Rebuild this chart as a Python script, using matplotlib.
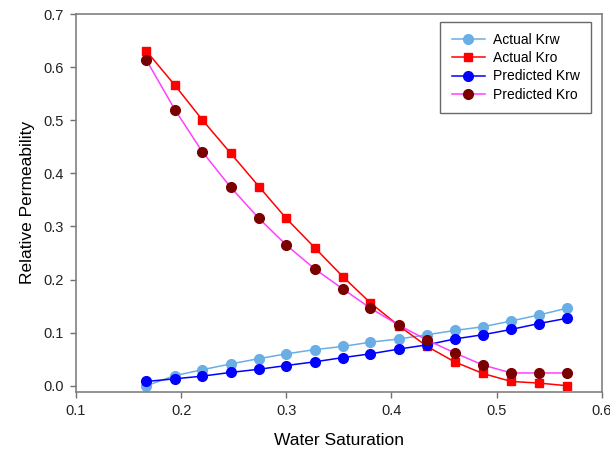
import matplotlib
matplotlib.use('Agg')
import matplotlib.pyplot as plt

plt.rcParams['font.family'] = ['Liberation Sans', 'DejaVu Sans']

sw = [0.167, 0.194, 0.220, 0.247, 0.274, 0.300, 0.327, 0.354,
      0.380, 0.407, 0.434, 0.460, 0.487, 0.514, 0.540, 0.567]

actual_krw = [0.000, 0.019, 0.030, 0.041, 0.051, 0.060, 0.068, 0.074,
              0.082, 0.088, 0.096, 0.104, 0.111, 0.122, 0.133, 0.146]
actual_kro = [0.630, 0.566, 0.501, 0.438, 0.375, 0.315, 0.260, 0.205,
              0.156, 0.113, 0.074, 0.045, 0.023, 0.008, 0.005, 0.000]
pred_krw = [0.008, 0.013, 0.018, 0.025, 0.031, 0.038, 0.045, 0.053,
            0.060, 0.069, 0.077, 0.088, 0.096, 0.106, 0.117, 0.127]
pred_kro = [0.613, 0.520, 0.441, 0.374, 0.315, 0.265, 0.220, 0.182,
            0.146, 0.114, 0.086, 0.062, 0.039, 0.024, 0.024, 0.024]

fig = plt.figure(figsize=(6.1, 4.55), dpi=100)
ax = fig.add_axes([0.1246, 0.1391, 0.8618, 0.8301])

ax.plot(sw, actual_krw, '-o', color='#6aaee6', lw=1.1, ms=7, label='Actual Krw')
ax.plot(sw, actual_kro, '-s', color='#ff0000', lw=1.1, ms=6.3, label='Actual Kro')
ax.plot(sw, pred_krw, '-o', color='#0000ff', lw=1.1, ms=7, label='Predicted Krw')
ax.plot(sw, pred_kro, '-o', color='#ff40ff', mfc='#7a0000', mec='#7a0000', lw=1.1, ms=7,
        label='Predicted Kro')

ax.set_xlim(0.1, 0.6)
ax.set_ylim(-0.0113, 0.7)
ax.set_xticks([0.1, 0.2, 0.3, 0.4, 0.5, 0.6])
ax.set_yticks([0.0, 0.1, 0.2, 0.3, 0.4, 0.5, 0.6, 0.7])
ax.set_xticklabels(['0.1', '0.2', '0.3', '0.4', '0.5', '0.6'])
ax.set_yticklabels(['0.0', '0.1', '0.2', '0.3', '0.4', '0.5', '0.6', '0.7'])
ax.tick_params(direction='out', length=4, width=1, color='#707070', labelsize=10.5,
               labelcolor='#222222', pad=5)

for s in ax.spines.values():
    s.set_color('#808080')
    s.set_linewidth(1.2)

ax.set_xlabel('Water Saturation', fontsize=12.5, labelpad=11)
ax.set_ylabel('Relative Permeability', fontsize=12.5, labelpad=6)

leg = ax.legend(loc='upper right', bbox_to_anchor=(0.988, 0.99), fontsize=10,
                frameon=True, fancybox=False, edgecolor='#444444', handlelength=2.4,
                borderpad=0.8, labelspacing=0.3, handletextpad=0.6, borderaxespad=0.3)
leg.get_frame().set_linewidth(1.0)

fig.savefig('out.png', dpi=100)
